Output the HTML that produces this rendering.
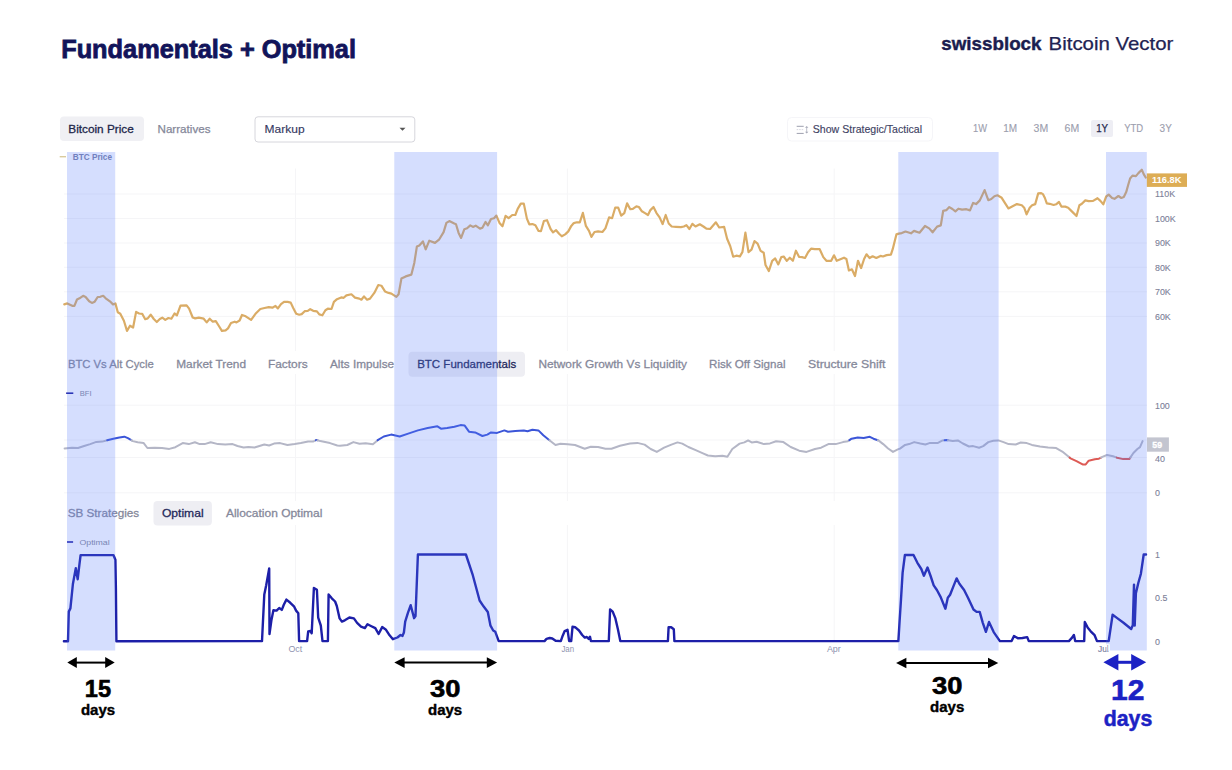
<!DOCTYPE html>
<html><head><meta charset="utf-8"><title>Fundamentals + Optimal</title>
<style>
html,body{margin:0;padding:0;background:#fff;}
body{width:1232px;height:770px;overflow:hidden;position:relative;font-family:'Liberation Sans',sans-serif;}
svg{position:absolute;left:0;top:0;}
svg text{font-family:'Liberation Sans',sans-serif;}
</style></head><body>
<svg width="1232" height="770" viewBox="0 0 1232 770">
<rect width="1232" height="770" fill="#ffffff"/>

<text x="61.2" y="57.6" font-size="24.9" fill="#12145a" stroke="#12145a" stroke-width="0.8" font-weight="bold" textLength="294.8" lengthAdjust="spacingAndGlyphs" >Fundamentals + Optimal</text>
<text x="941.3" y="49.7" font-size="17.8" fill="#1b1d4f" stroke="#1b1d4f" stroke-width="0.4" font-weight="bold" textLength="100.2" lengthAdjust="spacingAndGlyphs" >swissblock</text>
<text x="1048.6" y="49.7" font-size="17.8" fill="#1f2353" stroke="#1f2353" stroke-width="0.25" textLength="124.8" lengthAdjust="spacingAndGlyphs" >Bitcoin Vector</text>
<rect x="60" y="116.5" width="84" height="24.5" rx="4" fill="#f0f0f4"/>
<text x="68.3" y="133" font-size="11.6" fill="#22264a" stroke="#22264a" stroke-width="0.3" textLength="65.5" lengthAdjust="spacingAndGlyphs" >Bitcoin Price</text>
<text x="157.5" y="133" font-size="11.6" fill="#85889a" stroke="#85889a" stroke-width="0.25" textLength="53" lengthAdjust="spacingAndGlyphs" >Narratives</text>
<rect x="255" y="116.8" width="159.8" height="25.2" rx="3" fill="#fff" stroke="#d6d6dc" stroke-width="1"/>
<text x="264.6" y="132.7" font-size="11.6" fill="#363a62" stroke="#363a62" stroke-width="0.15" textLength="40" lengthAdjust="spacingAndGlyphs" >Markup</text>
<path d="M399.5 127.7 L405.5 127.7 L402.5 130.7 Z" fill="#555"/>
<rect x="787.5" y="117.5" width="145" height="23.5" rx="4" fill="#fff" stroke="#f5f5f8" stroke-width="1"/>
<g fill="none"><path d="M796.7 126.3 H803.7 M796.7 133.4 H803.7" stroke="#9d9fae" stroke-width="1"/><path d="M796.7 129.6 H803.7" stroke="#d2d3dc" stroke-width="0.9" stroke-dasharray="1.5 1"/><path d="M806.7 127 V132.5" stroke="#b6b8c4" stroke-width="0.9"/><path d="M805 127.8 L806.7 125.9 L808.4 127.8 Z M805 131.7 L806.7 133.6 L808.4 131.7 Z" fill="#a8aab8"/></g>
<text x="812.8" y="132.8" font-size="10.9" fill="#3e4263" stroke="#3e4263" stroke-width="0.15" textLength="109.2" lengthAdjust="spacingAndGlyphs" >Show Strategic/Tactical</text>
<rect x="1091" y="120" width="22" height="17" rx="2" fill="#eeeef4"/>
<text x="973.0" y="132.4" font-size="10.3" fill="#9c9eae" stroke="#9c9eae" stroke-width="0.12" textLength="14.0" lengthAdjust="spacingAndGlyphs" >1W</text>
<text x="1003.3000000000001" y="132.4" font-size="10.3" fill="#9c9eae" stroke="#9c9eae" stroke-width="0.12" textLength="13.9" lengthAdjust="spacingAndGlyphs" >1M</text>
<text x="1033.6" y="132.4" font-size="10.3" fill="#9c9eae" stroke="#9c9eae" stroke-width="0.12" textLength="14.6" lengthAdjust="spacingAndGlyphs" >3M</text>
<text x="1064.6" y="132.4" font-size="10.3" fill="#9c9eae" stroke="#9c9eae" stroke-width="0.12" textLength="14.6" lengthAdjust="spacingAndGlyphs" >6M</text>
<text x="1096.1999999999998" y="132.4" font-size="10.3" fill="#23274d" stroke="#23274d" stroke-width="0.25" textLength="11.9" lengthAdjust="spacingAndGlyphs" >1Y</text>
<text x="1124.1999999999998" y="132.4" font-size="10.3" fill="#9c9eae" stroke="#9c9eae" stroke-width="0.12" textLength="19.0" lengthAdjust="spacingAndGlyphs" >YTD</text>
<text x="1159.6" y="132.4" font-size="10.3" fill="#9c9eae" stroke="#9c9eae" stroke-width="0.12" textLength="12.2" lengthAdjust="spacingAndGlyphs" >3Y</text>
<line x1="64" y1="194" x2="1147" y2="194" stroke="#f5f5f7" stroke-width="1"/>
<line x1="64" y1="218.5" x2="1147" y2="218.5" stroke="#f5f5f7" stroke-width="1"/>
<line x1="64" y1="243" x2="1147" y2="243" stroke="#f5f5f7" stroke-width="1"/>
<line x1="64" y1="267.3" x2="1147" y2="267.3" stroke="#f5f5f7" stroke-width="1"/>
<line x1="64" y1="291.8" x2="1147" y2="291.8" stroke="#f5f5f7" stroke-width="1"/>
<line x1="64" y1="316.4" x2="1147" y2="316.4" stroke="#f5f5f7" stroke-width="1"/>
<line x1="295.5" y1="168.5" x2="295.5" y2="351" stroke="#f5f5f7" stroke-width="1"/>
<line x1="567.4" y1="168.5" x2="567.4" y2="351" stroke="#f5f5f7" stroke-width="1"/>
<line x1="834.2" y1="168.5" x2="834.2" y2="351" stroke="#f5f5f7" stroke-width="1"/>
<line x1="59.7" y1="156.7" x2="66" y2="156.7" stroke="#d9cb9e" stroke-width="1.4"/>
<text x="72.8" y="159.8" font-size="9.1" fill="#7a82a8" font-weight="bold" textLength="39.2" lengthAdjust="spacingAndGlyphs" >BTC Price</text>
<polyline points="64.3,304.4 67.3,303.4 72.2,305.8 74.4,305.8 77.0,299.5 79.5,298.3 83.1,295.8 85.6,297.0 89.2,301.3 91.9,302.9 94.7,301.7 97.7,297.0 100.2,296.8 103.2,295.8 105.7,298.3 109.9,301.3 113.0,304.4 115.4,303.4 117.8,312.3 120.3,313.8 123.9,320.8 127.0,330.9 130.0,325.7 133.1,327.5 136.1,311.9 139.1,313.5 142.2,313.8 145.2,319.2 147.7,318.4 150.7,314.7 153.8,319.0 156.8,322.0 159.8,319.0 162.3,317.7 165.3,319.9 168.4,318.0 171.4,318.7 174.5,313.5 176.9,315.3 180.5,305.6 186.6,305.3 189.1,308.6 192.7,317.5 195.2,318.4 198.8,317.7 203.7,318.7 206.7,322.4 209.7,318.7 212.8,321.7 215.8,321.1 218.9,326.0 221.9,330.9 225.6,330.3 228.0,328.4 231.0,323.0 234.7,321.7 236.5,322.4 239.6,320.5 242.0,315.0 245.7,316.3 251.1,319.9 256.0,313.2 260.3,309.0 264.5,308.0 268.8,307.1 272.4,307.7 275.5,305.9 277.9,308.4 281.0,304.1 284.0,301.9 287.7,301.9 290.7,302.6 293.1,307.7 296.2,313.8 299.2,314.7 301.7,314.1 304.7,311.2 307.8,310.8 310.2,309.2 313.2,310.8 316.9,311.4 319.3,314.4 322.4,315.3 325.4,310.2 327.8,308.7 331.5,309.0 333.9,301.9 337.0,299.2 341.2,297.4 343.7,297.8 346.4,295.4 351.4,294.3 355.0,297.6 359.3,298.6 361.4,299.7 364.0,296.4 367.1,299.7 370.0,298.6 374.3,292.9 378.3,285.0 381.4,285.7 385.0,291.4 388.6,292.9 391.4,293.6 396.4,296.9 398.6,294.3 401.4,278.6 405.7,276.4 411.4,274.6 414.3,262.9 416.9,246.4 419.3,245.4 422.9,241.4 425.7,249.3 429.3,240.7 435.0,242.9 439.3,239.3 443.6,232.1 446.4,222.9 449.3,221.1 454.3,223.6 456.0,224.3 458.6,232.9 461.1,237.9 464.3,229.3 467.1,228.3 470.3,225.4 472.9,226.9 475.7,225.7 480.0,228.6 482.4,227.7 485.5,221.9 487.9,225.3 491.0,219.0 494.0,218.2 496.4,215.6 499.5,222.9 502.5,226.3 505.6,215.8 508.6,218.2 512.3,215.0 515.3,215.0 517.7,208.9 520.8,203.6 523.8,203.6 526.9,218.6 529.3,224.3 532.4,224.1 535.4,225.3 538.4,230.8 540.9,231.2 543.9,221.0 547.0,220.2 550.6,229.0 553.0,232.4 556.1,230.2 559.1,233.8 561.8,236.3 565.2,234.4 568.3,231.4 571.3,225.9 573.8,223.1 576.8,222.3 579.8,222.3 582.9,212.9 585.9,225.9 589.0,230.8 591.4,236.9 594.5,232.0 598.1,231.4 602.4,232.0 605.4,228.4 609.1,217.4 612.1,218.2 615.2,207.7 618.2,207.7 621.2,215.6 624.3,213.1 627.1,203.4 630.3,209.2 632.8,208.9 636.4,206.4 638.9,207.0 641.9,211.3 645.0,213.1 648.0,215.0 650.4,210.1 653.5,207.0 656.5,213.1 659.6,217.4 662.6,224.1 665.7,215.0 668.7,223.5 671.7,226.5 676.0,226.8 680.9,227.1 683.9,226.5 686.4,225.1 689.4,229.0 692.4,223.8 695.5,226.5 699.8,224.3 703.4,226.5 706.4,228.7 710.1,229.0 713.1,225.6 715.9,222.3 719.2,227.5 724.1,226.8 727.1,238.7 730.2,246.0 733.2,256.7 736.3,255.7 739.9,256.4 742.4,252.1 745.4,232.6 748.5,252.1 751.5,249.7 754.5,241.1 757.6,243.6 760.6,250.9 763.7,252.7 765.5,265.0 768.8,271.1 772.2,260.8 775.2,258.4 778.3,264.4 781.3,257.1 783.7,256.5 786.8,260.8 789.8,257.7 792.9,260.8 795.9,250.7 799.0,256.8 802.0,257.1 805.0,258.0 808.1,252.3 811.1,248.6 814.8,249.2 819.7,249.2 823.3,257.1 826.4,260.8 831.2,260.8 834.0,255.3 836.7,260.8 840.4,259.2 844.0,257.7 846.4,259.0 848.9,270.5 851.9,269.3 855.0,276.0 858.0,260.8 861.1,268.1 864.1,259.0 866.5,254.3 869.6,258.0 872.6,256.3 876.3,258.0 880.5,255.9 883.0,256.5 886.6,255.1 890.9,254.7 892.7,249.2 896.4,234.4 898.8,233.6 901.8,233.1 905.5,231.5 911.0,233.3 914.0,230.9 919.5,232.7 925.0,226.0 929.2,228.4 932.6,232.3 937.1,226.6 940.8,225.4 943.2,210.8 946.3,210.2 949.3,207.1 952.4,209.0 955.4,211.4 958.4,208.7 962.1,209.6 966.4,209.2 970.0,210.4 973.1,202.9 976.1,204.1 979.8,200.4 984.6,190.1 988.3,200.2 991.3,199.0 994.4,196.2 997.4,195.3 1001.7,197.8 1004.7,202.6 1008.4,208.4 1012.6,206.3 1016.9,204.1 1021.8,205.3 1024.2,207.7 1026.6,214.4 1029.7,207.7 1032.1,205.3 1035.2,204.1 1038.2,193.4 1041.2,193.1 1042.9,194.1 1044.9,198.0 1046.8,203.3 1049.7,203.8 1053.6,205.0 1056.1,204.3 1059.0,201.9 1061.4,206.6 1065.3,206.6 1068.2,207.7 1072.1,211.6 1076.5,216.0 1079.4,205.3 1081.9,203.8 1085.3,200.4 1088.7,201.1 1093.1,200.9 1097.5,198.2 1100.4,200.9 1103.3,204.3 1106.2,196.5 1108.7,194.6 1112.1,198.0 1114.5,198.8 1118.4,196.0 1121.3,198.0 1123.8,197.0 1126.2,192.1 1128.1,185.3 1130.1,178.5 1132.5,175.6 1135.9,176.1 1138.4,173.1 1141.8,169.7 1143.7,174.1 1145.7,177.5" fill="none" stroke="#daac66" stroke-width="2.2" stroke-linejoin="round" stroke-linecap="round"/>
<text x="1155" y="197.2" font-size="8.9" fill="#7c8098" stroke="#7c8098" stroke-width="0.1" >110K</text>
<text x="1155" y="221.7" font-size="8.9" fill="#7c8098" stroke="#7c8098" stroke-width="0.1" >100K</text>
<text x="1155" y="246.2" font-size="8.9" fill="#7c8098" stroke="#7c8098" stroke-width="0.1" >90K</text>
<text x="1155" y="270.5" font-size="8.9" fill="#7c8098" stroke="#7c8098" stroke-width="0.1" >80K</text>
<text x="1155" y="295.0" font-size="8.9" fill="#7c8098" stroke="#7c8098" stroke-width="0.1" >70K</text>
<text x="1155" y="319.59999999999997" font-size="8.9" fill="#7c8098" stroke="#7c8098" stroke-width="0.1" >60K</text>
<rect x="1146.8" y="173.4" width="40.2" height="13.5" fill="#ddad55"/>
<text x="1152" y="183.2" font-size="8.6" fill="#ffffff" font-weight="bold" textLength="29.5" lengthAdjust="spacingAndGlyphs" >116.8K</text>
<rect x="408.5" y="351.8" width="116.5" height="24.9" rx="4" fill="#eeeef3"/>
<text x="67.9" y="368.3" font-size="11.6" fill="#85889a" stroke="#85889a" stroke-width="0.28" textLength="85.8" lengthAdjust="spacingAndGlyphs" >BTC Vs Alt Cycle</text>
<text x="176.20000000000002" y="368.3" font-size="11.6" fill="#85889a" stroke="#85889a" stroke-width="0.28" textLength="69.8" lengthAdjust="spacingAndGlyphs" >Market Trend</text>
<text x="267.9" y="368.3" font-size="11.6" fill="#85889a" stroke="#85889a" stroke-width="0.28" textLength="39.8" lengthAdjust="spacingAndGlyphs" >Factors</text>
<text x="330.0" y="368.3" font-size="11.6" fill="#85889a" stroke="#85889a" stroke-width="0.28" textLength="64.1" lengthAdjust="spacingAndGlyphs" >Alts Impulse</text>
<text x="417.2" y="368.3" font-size="11.6" fill="#23285a" stroke="#23285a" stroke-width="0.28" textLength="99.0" lengthAdjust="spacingAndGlyphs" >BTC Fundamentals</text>
<text x="538.4" y="368.3" font-size="11.6" fill="#85889a" stroke="#85889a" stroke-width="0.28" textLength="148.6" lengthAdjust="spacingAndGlyphs" >Network Growth Vs Liquidity</text>
<text x="709.0" y="368.3" font-size="11.6" fill="#85889a" stroke="#85889a" stroke-width="0.28" textLength="76.5" lengthAdjust="spacingAndGlyphs" >Risk Off Signal</text>
<text x="808.1" y="368.3" font-size="11.6" fill="#85889a" stroke="#85889a" stroke-width="0.28" textLength="77.4" lengthAdjust="spacingAndGlyphs" >Structure Shift</text>
<line x1="64" y1="405.2" x2="1147" y2="405.2" stroke="#f5f5f7" stroke-width="1"/>
<line x1="64" y1="440" x2="1147" y2="440" stroke="#f5f5f7" stroke-width="1"/>
<line x1="64" y1="457.5" x2="1147" y2="457.5" stroke="#f5f5f7" stroke-width="1"/>
<line x1="64" y1="492.8" x2="1147" y2="492.8" stroke="#f5f5f7" stroke-width="1"/>
<line x1="295.5" y1="374" x2="295.5" y2="501" stroke="#f5f5f7" stroke-width="1"/>
<line x1="567.4" y1="374" x2="567.4" y2="501" stroke="#f5f5f7" stroke-width="1"/>
<line x1="834.2" y1="374" x2="834.2" y2="501" stroke="#f5f5f7" stroke-width="1"/>
<line x1="66.2" y1="393.2" x2="73.3" y2="393.2" stroke="#1b1fa0" stroke-width="1.6"/>
<text x="79.8" y="396" font-size="7.6" fill="#85889a" textLength="11.8" lengthAdjust="spacingAndGlyphs" >BFI</text>
<polyline points="64.6,448.4 71.9,447.7 78.0,448.0 84.1,446.0 90.2,444.1 96.3,441.9 102.3,441.6 107.2,440.2" fill="none" stroke="#b4b6c6" stroke-width="2" stroke-linejoin="round" stroke-linecap="round"/>
<polyline points="107.2,440.2 113.3,438.7 119.4,437.5 124.3,436.7 127.9,438.2 131.3,440.2" fill="none" stroke="#3b55d8" stroke-width="2" stroke-linejoin="round" stroke-linecap="round"/>
<polyline points="131.3,440.2 132.8,441.1 137.7,442.3 143.7,443.1 147.4,448.0 154.7,447.7 162.0,448.0 169.3,448.9 175.4,447.2 182.7,443.1 188.8,444.1 194.9,442.3 199.7,444.1 204.6,444.1 210.7,442.3 218.0,444.1 225.3,444.5 232.6,444.1 237.5,446.0 243.6,447.5 248.4,447.0 254.5,447.5 259.4,446.0 264.3,444.5 269.1,445.5 274.0,443.6 280.1,443.1 287.4,445.0 294.7,444.1 300.8,443.1 308.1,441.6 313.0,441.6 316.0,440.2" fill="none" stroke="#b4b6c6" stroke-width="2" stroke-linejoin="round" stroke-linecap="round"/>
<polyline points="316.0,440.2 316.6,439.9 317.5,440.2" fill="none" stroke="#3b55d8" stroke-width="2" stroke-linejoin="round" stroke-linecap="round"/>
<polyline points="317.5,440.2 320.3,441.1 330.0,443.1 337.3,445.5 340.0,445.8 347.3,445.0 353.4,442.1 359.5,443.8 365.6,443.3 372.9,444.3 377.7,440.2" fill="none" stroke="#b4b6c6" stroke-width="2" stroke-linejoin="round" stroke-linecap="round"/>
<polyline points="377.7,440.2 383.8,436.5 391.1,434.6 399.7,436.5 408.2,433.6 417.9,430.4 427.7,428.0 437.4,426.3 441.0,428.7 447.1,428.0 454.4,426.8 460.5,425.1 464.7,425.6 469.0,431.7 475.1,432.4 482.4,436.0 487.3,434.6 491.0,432.4 497.0,432.9 504.4,430.4 508.0,431.7 515.3,430.9 523.8,430.4 527.5,431.2 532.4,429.7 538.4,430.4 543.3,435.3 549.4,440.2" fill="none" stroke="#3b55d8" stroke-width="2" stroke-linejoin="round" stroke-linecap="round"/>
<polyline points="549.4,440.2 555.5,445.0 560.4,443.8 567.7,444.3 575.0,445.0 584.7,448.7 590.8,446.7 598.1,447.0 605.4,448.7 611.5,448.7 620.0,445.8 630.0,443.6 637.3,442.9 644.6,444.6 650.7,449.0 656.8,451.9 664.1,447.7 671.4,444.6 677.5,442.4 682.3,443.6 688.4,447.0 695.7,450.2 703.0,453.3 707.9,455.5 715.2,456.3 722.5,455.8 727.4,456.7 732.3,449.0 739.6,443.6 744.4,442.4 748.1,440.4 751.7,442.4 756.6,441.7 763.9,444.1 770.0,443.4 776.1,441.2 783.4,442.1 790.7,447.0 799.2,450.7 806.5,451.9 815.0,449.0 821.1,447.7 828.4,444.1 835.7,444.1 843.0,442.1 847.9,441.2 849.4,440.2" fill="none" stroke="#b4b6c6" stroke-width="2" stroke-linejoin="round" stroke-linecap="round"/>
<polyline points="849.4,440.2 851.6,438.7 857.7,437.5 863.7,438.0 869.8,436.8 873.5,438.7 877.8,440.2" fill="none" stroke="#3b55d8" stroke-width="2" stroke-linejoin="round" stroke-linecap="round"/>
<polyline points="877.8,440.2 878.4,440.4 883.2,444.1 888.1,448.5 893.0,451.9 897.8,449.4 900.0,448.6 905.1,444.9 909.1,444.1 914.2,442.1 920.3,443.5 925.4,444.5 929.4,443.1 937.5,443.1 942.6,440.4 944.7,440.2" fill="none" stroke="#b4b6c6" stroke-width="2" stroke-linejoin="round" stroke-linecap="round"/>
<polyline points="944.7,440.2 946.7,440.0 947.9,440.2" fill="none" stroke="#3b55d8" stroke-width="2" stroke-linejoin="round" stroke-linecap="round"/>
<polyline points="947.9,440.2 952.8,441.0 957.8,440.4 962.9,443.5 969.0,446.5 973.1,446.1 979.1,447.7 983.2,446.1 988.3,442.1 993.3,440.8 998.4,440.4 1003.5,442.1 1008.6,444.1 1015.7,444.5 1020.7,442.5 1026.8,443.1 1031.9,444.9 1040.0,446.5 1048.1,447.5 1056.2,448.1 1062.3,451.6 1069.6,457.6" fill="none" stroke="#b4b6c6" stroke-width="2" stroke-linejoin="round" stroke-linecap="round"/>
<polyline points="1069.6,457.6 1070.5,458.3 1076.5,461.1 1082.6,464.4 1085.7,464.4 1088.7,460.7 1094.8,459.3 1098.9,458.7 1101.1,457.6" fill="none" stroke="#dd5a55" stroke-width="2" stroke-linejoin="round" stroke-linecap="round"/>
<polyline points="1101.1,457.6 1102.9,456.7 1107.0,455.0 1113.1,456.3 1116.8,457.6" fill="none" stroke="#b4b6c6" stroke-width="2" stroke-linejoin="round" stroke-linecap="round"/>
<polyline points="1116.8,457.6 1117.1,457.7 1123.2,459.1 1129.3,459.1 1130.3,457.6" fill="none" stroke="#dd5a55" stroke-width="2" stroke-linejoin="round" stroke-linecap="round"/>
<polyline points="1130.3,457.6 1133.4,453.0 1137.4,449.0 1140.0,447.1 1142.6,441.1" fill="none" stroke="#b4b6c6" stroke-width="2" stroke-linejoin="round" stroke-linecap="round"/>
<text x="1155" y="408.9" font-size="8.9" fill="#7c8098" stroke="#7c8098" stroke-width="0.1" >100</text>
<text x="1155" y="461.5" font-size="8.9" fill="#7c8098" stroke="#7c8098" stroke-width="0.1" >40</text>
<text x="1155" y="496.09999999999997" font-size="8.9" fill="#7c8098" stroke="#7c8098" stroke-width="0.1" >0</text>
<rect x="1147" y="437.4" width="21.9" height="14.3" fill="#c3c5d0"/>
<text x="1152.3" y="447.7" font-size="8.8" fill="#ffffff" stroke="#ffffff" stroke-width="0.3" font-weight="bold" >59</text>
<rect x="153.5" y="501.1" width="58.4" height="24.3" rx="4" fill="#eeeef3"/>
<text x="67.7" y="517.4" font-size="11.6" fill="#85889a" stroke="#85889a" stroke-width="0.28" textLength="71.4" lengthAdjust="spacingAndGlyphs" >SB Strategies</text>
<text x="161.9" y="517.4" font-size="11.6" fill="#23285a" stroke="#23285a" stroke-width="0.28" textLength="41.7" lengthAdjust="spacingAndGlyphs" >Optimal</text>
<text x="225.9" y="517.4" font-size="11.6" fill="#85889a" stroke="#85889a" stroke-width="0.28" textLength="96.5" lengthAdjust="spacingAndGlyphs" >Allocation Optimal</text>
<line x1="295.5" y1="525" x2="295.5" y2="641" stroke="#f5f5f7" stroke-width="1"/>
<line x1="567.4" y1="525" x2="567.4" y2="641" stroke="#f5f5f7" stroke-width="1"/>
<line x1="834.2" y1="525" x2="834.2" y2="641" stroke="#f5f5f7" stroke-width="1"/>
<line x1="67" y1="542" x2="73.1" y2="542" stroke="#1d1fa8" stroke-width="1.6"/>
<text x="79.5" y="545" font-size="7.6" fill="#85889a" textLength="30.2" lengthAdjust="spacingAndGlyphs" >Optimal</text>
<polyline points="63.9,641.2 68.0,641.2 68.8,611.6 70.4,608.4 72.9,584.0 75.8,568.1 77.7,579.2 79.4,564.6 80.6,555.1 113.4,555.1 115.4,559.7 115.9,588.9 116.4,641.2 262.0,641.1 264.3,594.4 266.2,585.3 269.2,568.4 269.5,634.0 271.4,620.3 273.4,610.2 276.6,610.6 279.2,608.0 281.8,609.9 283.8,604.7 286.4,599.6 290.3,602.8 294.2,606.7 296.1,610.6 298.3,613.2 299.1,641.1 307.1,641.1 308.2,631.4 310.4,631.0 311.7,633.3 313.9,587.9 316.9,589.8 318.2,617.7 320.8,625.5 322.5,641.1 327.9,641.1 328.6,594.4 331.8,598.3 335.1,601.5 336.8,606.0 339.6,618.4 341.9,621.6 344.8,620.3 349.4,617.5 353.9,618.4 357.1,622.9 361.0,626.6 364.9,628.1 367.5,624.2 371.4,626.2 375.3,628.1 378.6,634.0 382.2,627.1 385.7,629.4 389.6,635.3 392.9,639.2 397.4,637.5 400.5,635.0 402.5,635.9 403.9,632.5 405.2,621.6 408.0,612.7 410.7,605.2 414.1,618.2 415.5,616.1 417.9,554.5 465.9,554.5 472.8,575.2 479.6,600.5 483.7,606.6 487.8,612.0 490.5,625.7 493.2,630.5 495.3,631.8 498.7,641.1 544.5,641.1 546.5,638.9 549.7,638.0 552.3,638.5 555.6,640.8 560.8,641.1 562.7,635.7 564.7,631.1 567.5,629.8 569.2,641.1 571.2,641.1 572.5,626.8 575.1,627.2 579.0,630.5 582.2,635.0 584.8,637.6 586.8,637.0 588.7,638.9 590.0,636.7 590.9,641.1 608.8,641.1 610.1,609.4 612.7,611.6 615.3,618.1 617.9,629.2 620.3,641.1 667.9,641.1 668.6,627.2 671.2,627.2 673.8,629.2 674.4,641.1 898.4,641.1 899.5,622.8 901.0,599.4 902.6,572.9 904.9,555.0 913.5,555.0 917.4,562.8 921.3,569.0 923.9,575.7 927.5,567.5 930.6,576.0 933.7,585.4 936.9,590.0 940.7,597.1 945.4,608.7 947.8,597.8 950.1,594.7 953.2,586.9 956.6,578.4 959.4,583.8 964.1,590.0 968.0,597.8 973.5,609.5 976.6,611.9 979.7,611.9 982.8,622.8 985.9,631.8 989.0,622.0 993.7,632.1 999.9,641.1 1011.6,641.1 1014.0,636.0 1017.9,638.3 1022.5,638.0 1027.2,637.1 1028.8,641.1 1068.9,641.1 1072.1,637.6 1073.9,634.9 1075.2,641.1 1084.2,641.1 1084.8,622.0 1087.6,627.4 1090.7,631.3 1094.6,635.2 1097.0,641.1 1108.7,641.1 1112.6,614.7 1117.2,618.1 1123.5,622.8 1131.2,629.0 1132.8,625.1 1134.0,584.6 1134.7,625.6 1135.9,593.2 1138.3,583.0 1140.9,573.7 1143.7,554.5 1146.0,554.5" fill="none" stroke="#1d1fa8" stroke-width="2.4" stroke-linejoin="round" stroke-linecap="round"/>
<text x="1155" y="557.5" font-size="8.9" fill="#7c8098" stroke="#7c8098" stroke-width="0.1" >1</text>
<text x="1155" y="601.2" font-size="8.9" fill="#7c8098" stroke="#7c8098" stroke-width="0.1" >0.5</text>
<text x="1155" y="645.2" font-size="8.9" fill="#7c8098" stroke="#7c8098" stroke-width="0.1" >0</text>
<text x="288.40000000000003" y="652.2" font-size="8.6" fill="#8f94b0" textLength="13.8" lengthAdjust="spacingAndGlyphs" >Oct</text>
<text x="561.4" y="652.2" font-size="8.6" fill="#8f94b0" textLength="12.7" lengthAdjust="spacingAndGlyphs" >Jan</text>
<text x="826.9" y="652.2" font-size="8.6" fill="#8f94b0" textLength="13.9" lengthAdjust="spacingAndGlyphs" >Apr</text>
<text x="1098.1" y="652.2" font-size="8.6" fill="#8f94b0" textLength="10.7" lengthAdjust="spacingAndGlyphs" >Jul</text>
<rect x="67" y="152" width="48.2" height="498.5" fill="rgba(87,123,251,0.25)"/>
<rect x="394.3" y="152" width="102.8" height="498.5" fill="rgba(87,123,251,0.25)"/>
<rect x="898.3" y="152" width="100.3" height="498.5" fill="rgba(87,123,251,0.25)"/>
<rect x="1106" y="152" width="40.8" height="498.5" fill="rgba(87,123,251,0.25)"/>
<rect x="1105.5" y="644.3" width="4.3" height="6.5" fill="#fff"/>
<text x="1098.1" y="652.2" font-size="8.6" fill="#8f94b0" textLength="10.6" lengthAdjust="spacingAndGlyphs" >Jul</text>
<line x1="75.8" y1="662.6" x2="106.2" y2="662.6" stroke="#000" stroke-width="2.0"/><path d="M67.3 662.6 L76.8 657.1 L76.8 668.1 Z" fill="#000"/><path d="M114.7 662.6 L105.2 657.1 L105.2 668.1 Z" fill="#000"/>
<line x1="403.6" y1="662.6" x2="487.8" y2="662.6" stroke="#000" stroke-width="2.0"/><path d="M394.3 662.6 L404.6 657.25 L404.6 667.95 Z" fill="#000"/><path d="M497.1 662.6 L486.8 657.25 L486.8 667.95 Z" fill="#000"/>
<line x1="905.4" y1="663.0" x2="989.0" y2="663.0" stroke="#000" stroke-width="2.0"/><path d="M896.1 663.0 L906.4 657.65 L906.4 668.35 Z" fill="#000"/><path d="M998.3 663.0 L988.0 657.65 L988.0 668.35 Z" fill="#000"/>
<line x1="1117.4" y1="662.3" x2="1132.2" y2="662.3" stroke="#1c22c4" stroke-width="3"/><path d="M1103.4 662.3 L1118.4 654.0999999999999 L1118.4 670.5 Z" fill="#1c22c4"/><path d="M1146.2 662.3 L1131.2 654.0999999999999 L1131.2 670.5 Z" fill="#1c22c4"/>
<text x="97.9" y="697.1" font-size="23.6" fill="#000" stroke="#000" stroke-width="0.6" font-weight="bold" text-anchor="middle" >15</text>
<text x="98" y="715" font-size="15" fill="#000" stroke="#000" stroke-width="0.4" font-weight="bold" text-anchor="middle" >days</text>
<text x="445.3" y="697.3" font-size="24" fill="#000" stroke="#000" stroke-width="0.6" font-weight="bold" textLength="30.4" lengthAdjust="spacingAndGlyphs" text-anchor="middle" >30</text>
<text x="445.1" y="714.8" font-size="15" fill="#000" stroke="#000" stroke-width="0.4" font-weight="bold" text-anchor="middle" >days</text>
<text x="947.2" y="693.8" font-size="24" fill="#000" stroke="#000" stroke-width="0.6" font-weight="bold" textLength="30.4" lengthAdjust="spacingAndGlyphs" text-anchor="middle" >30</text>
<text x="947.2" y="711.5" font-size="15" fill="#000" stroke="#000" stroke-width="0.4" font-weight="bold" text-anchor="middle" >days</text>
<text x="1127.7" y="699.8" font-size="30" fill="#1c22c4" stroke="#1c22c4" stroke-width="0.6" font-weight="bold" text-anchor="middle" >12</text>
<text x="1128" y="726.2" font-size="21.3" fill="#1c22c4" stroke="#1c22c4" stroke-width="0.5" font-weight="bold" text-anchor="middle" >days</text>
</svg></body></html>
